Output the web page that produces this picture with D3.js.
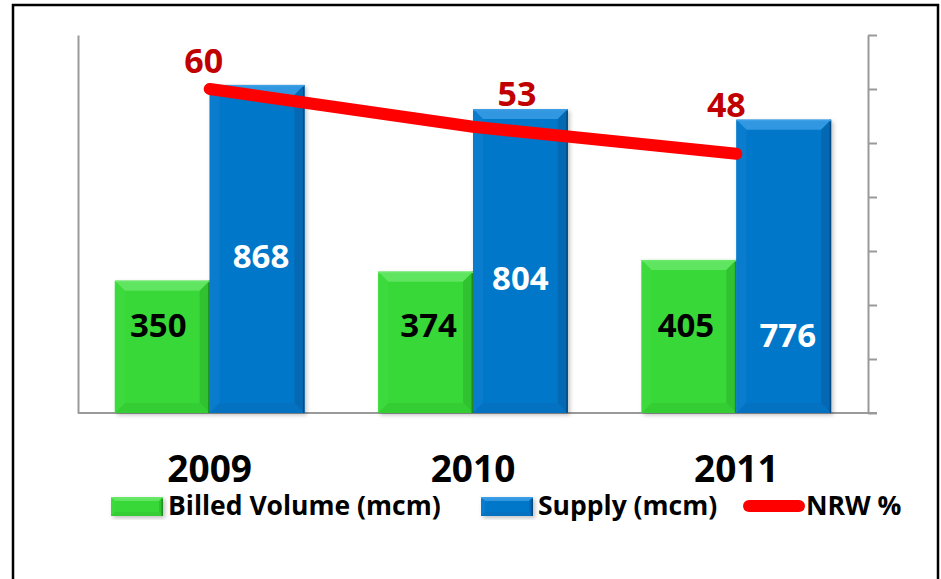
<!DOCTYPE html>
<html>
<head>
<meta charset="utf-8">
<script src="https://cdn.jsdelivr.net/npm/d3@7"></script>
<style>
  body { margin: 0; background: #fff; }
  text { font-family: "Open Sans", "DejaVu Sans", sans-serif; font-weight: 700; }
</style>
</head>
<body>
<script>
// data
var years = ['2009', '2010', '2011'];
var billed = [350, 374, 405];   // Billed Volume (mcm)
var supply = [868, 804, 776];   // Supply (mcm)
var nrw = [60, 53, 48];         // NRW %
var seriesNames = ['Billed Volume (mcm)', 'Supply (mcm)', 'NRW %'];

var WIDTH = 941, HEIGHT = 579;
var LEFT = 78, RIGHT = 868, TOP = 35, BOTTOM = 413;

var svg = d3.select('body').append('svg')
  .attr('width', WIDTH)
  .attr('height', HEIGHT);

// outer frame (its bottom edge is cut off by the window)
svg.append('rect')
  .attr('x', 13).attr('y', 5)
  .attr('width', 925).attr('height', 600)
  .attr('fill', 'none').attr('stroke', '#000').attr('stroke-width', 2.5);

var defs = svg.append('defs');
var f = defs.append('filter').attr('id', 'shadow')
  .attr('x', '-10%').attr('y', '-10%').attr('width', '130%').attr('height', '130%');
f.append('feDropShadow').attr('dx', 2).attr('dy', 2).attr('stdDeviation', 2)
  .attr('flood-color', '#000').attr('flood-opacity', 0.25);

var x = d3.scaleBand().domain(years).range([LEFT, RIGHT])
  .paddingInner(0.28).paddingOuter(0.14);
var xs = d3.scaleBand().domain(['billed', 'supply']).range([0, x.bandwidth()]);
var yLeft = d3.scaleLinear().domain([0, 1000]).range([BOTTOM, TOP]);
var yRight = d3.scaleLinear().domain([0, 70]).range([BOTTOM, TOP]);

// axes
var axisColor = '#9a9a9a';
var gl = svg.append('g').attr('transform', 'translate(' + LEFT + ',0)')
  .call(d3.axisLeft(yLeft).ticks(0).tickSize(0).tickSizeOuter(0));
var gr = svg.append('g').attr('transform', 'translate(' + RIGHT + ',0)')
  .call(d3.axisRight(yRight).tickValues(d3.range(0, 71, 10)).tickSize(9).tickSizeOuter(0).tickFormat(''));
svg.append('line')
  .attr('x1', LEFT).attr('x2', RIGHT + 9)
  .attr('y1', yLeft(0)).attr('y2', yLeft(0))
  .attr('stroke', axisColor).attr('stroke-width', 2);
[gl, gr].forEach(function(g) {
  g.selectAll('path, line').attr('stroke', axisColor).attr('stroke-width', 2);
});

var colors = {
  billed: { base: '#38d838', top: '#6ae86a', left: '#3fdb3f', right: '#2ebd2e', bottom: '#33cc33', edge: '#1f8f1f' },
  supply: { base: '#0677c9', top: '#3d9fe6', left: '#0c7dce', right: '#0565ad', bottom: '#0670bf', edge: '#034a85' }
};

function bevelBar(g, bx, by, w, h, c, b) {
  var grp = g.append('g');
  grp.append('rect').attr('x', bx).attr('y', by).attr('width', w).attr('height', h)
    .attr('fill', c.base).attr('filter', 'url(#shadow)');
  var faces = [
    [[bx, by], [bx + w, by], [bx + w - b, by + b], [bx + b, by + b], c.top],
    [[bx, by], [bx + b, by + b], [bx + b, by + h - b], [bx, by + h], c.left],
    [[bx + w, by], [bx + w, by + h], [bx + w - b, by + h - b], [bx + w - b, by + b], c.right],
    [[bx, by + h], [bx + b, by + h - b], [bx + w - b, by + h - b], [bx + w, by + h], c.bottom]
  ];
  faces.forEach(function(p) {
    grp.append('polygon').attr('points', p.slice(0, 4).map(function(q) { return q.join(','); }).join(' '))
      .attr('fill', p[4]).attr('opacity', 0.8);
  });
  grp.append('line').attr('x1', bx + w - 0.75).attr('x2', bx + w - 0.75).attr('y1', by).attr('y2', by + h)
    .attr('stroke', c.edge).attr('stroke-width', 1.5);
  grp.append('line').attr('x1', bx).attr('x2', bx + w).attr('y1', by + 0.75).attr('y2', by + 0.75)
    .attr('stroke', c.top).attr('stroke-width', 1.5);
}

var bars = svg.append('g');
years.forEach(function(yr, i) {
  var gx = x(yr);
  bevelBar(bars, gx + xs('billed'), yLeft(billed[i]), xs.bandwidth(), yLeft(0) - yLeft(billed[i]), colors.billed, 10);
  bevelBar(bars, gx + xs('supply'), yLeft(supply[i]), xs.bandwidth(), yLeft(0) - yLeft(supply[i]), colors.supply, 10);
});

// bar value labels (placed by hand in the original)
var billedLabelY = 337;
var supplyLabelDy = [183, 181, 227];
var billedLabelDx = [-4, 3, -3];
var supplyLabelDx = [4, 0, 4];
svg.append('g').selectAll('text').data(billed).enter().append('text')
  .attr('x', function(d, i) { return x(years[i]) + xs('billed') + xs.bandwidth() / 2 + billedLabelDx[i]; })
  .attr('y', billedLabelY)
  .attr('text-anchor', 'middle').attr('font-size', 33).attr('fill', '#000')
  .text(function(d) { return d; });
svg.append('g').selectAll('text').data(supply).enter().append('text')
  .attr('x', function(d, i) { return x(years[i]) + xs('supply') + xs.bandwidth() / 2 + supplyLabelDx[i]; })
  .attr('y', function(d, i) { return yLeft(d) + supplyLabelDy[i]; })
  .attr('text-anchor', 'middle').attr('font-size', 33).attr('fill', '#fff')
  .text(function(d) { return d; });

// NRW line
var line = d3.line()
  .x(function(d, i) { return x(years[i]) + x.bandwidth() / 2; })
  .y(function(d) { return yRight(d); });
svg.append('path').datum(nrw)
  .attr('d', line)
  .attr('fill', 'none').attr('stroke', '#ff0000').attr('stroke-width', 12)
  .attr('stroke-linecap', 'round').attr('stroke-linejoin', 'round');

var nrwLabelDx = [-6, 44, -10];
var nrwLabelDy = [-16, -21, -37];
svg.append('g').selectAll('text').data(nrw).enter().append('text')
  .attr('x', function(d, i) { return x(years[i]) + x.bandwidth() / 2 + nrwLabelDx[i]; })
  .attr('y', function(d, i) { return yRight(d) + nrwLabelDy[i]; })
  .attr('text-anchor', 'middle').attr('font-size', 34).attr('fill', '#c00000')
  .text(function(d) { return d; });

// category labels
svg.append('g').selectAll('text').data(years).enter().append('text')
  .attr('x', function(d) { return x(d) + x.bandwidth() / 2; })
  .attr('y', 482)
  .attr('text-anchor', 'middle').attr('font-size', 37).attr('fill', '#000')
  .text(function(d) { return d; });

// legend
var legY = 506;
var legFont = 26.5;
var leg = svg.append('g');
bevelBar(leg, 111, legY - 9, 52, 19, colors.billed, 4);
leg.append('text').attr('x', 168).attr('y', legY + 9).attr('font-size', legFont).text(seriesNames[0]);
bevelBar(leg, 481, legY - 9, 52, 19, colors.supply, 4);
leg.append('text').attr('x', 538).attr('y', legY + 9).attr('font-size', legFont).text(seriesNames[1]);
leg.append('line').attr('x1', 749).attr('x2', 799).attr('y1', legY).attr('y2', legY)
  .attr('stroke', '#ff0000').attr('stroke-width', 12).attr('stroke-linecap', 'round');
leg.append('text').attr('x', 806).attr('y', legY + 9).attr('font-size', legFont).text(seriesNames[2]);
</script>
</body>
</html>
